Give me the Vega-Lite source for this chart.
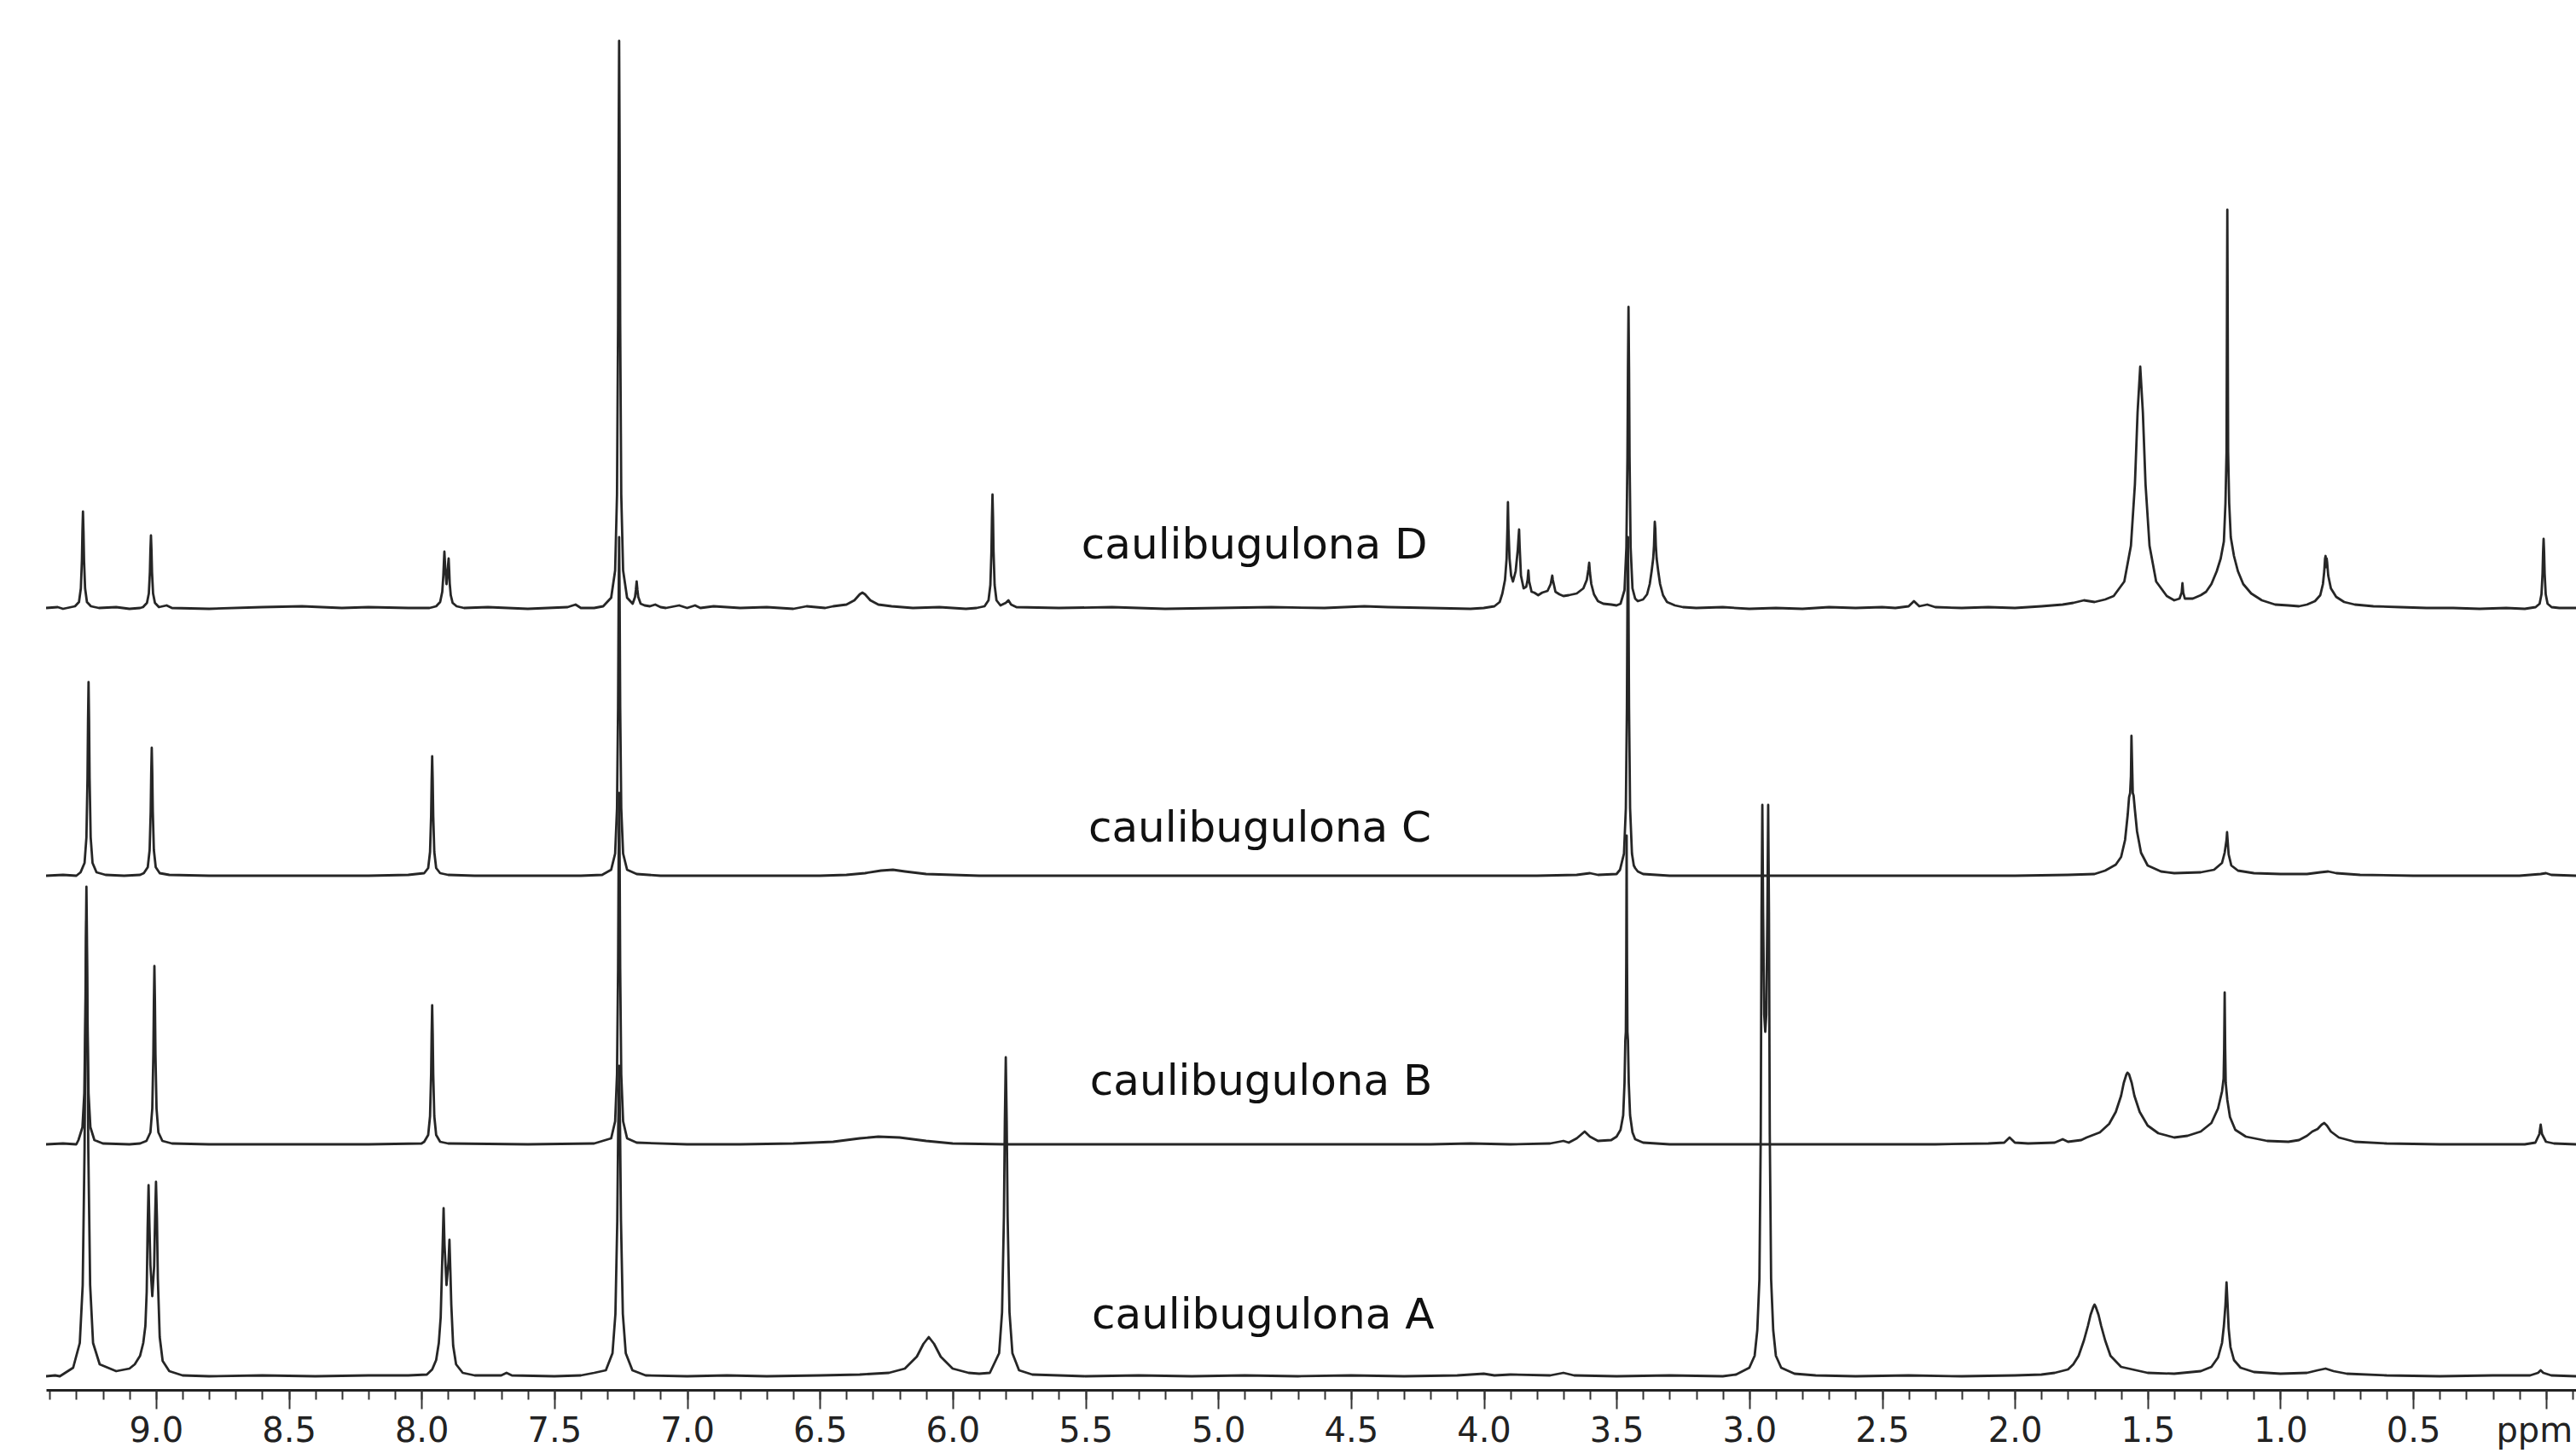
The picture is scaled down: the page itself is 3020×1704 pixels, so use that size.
{
"$schema": "https://vega.github.io/schema/vega-lite/v6.json",
"width": 2966,
"height": 1630,
"autosize": {"type": "none"},
"padding": {"left": 54, "top": 0, "right": 0, "bottom": 74},
"background": "white",
"config": {"view": {"stroke": null}},
"resolve": {"axis": {"x": "independent"}},
"datasets": {
"labels": [
{"ppm": 5.515, "i": 975, "label": "caulibugulona D"},
{"ppm": 5.489, "i": 643, "label": "caulibugulona C"},
{"ppm": 5.483, "i": 346, "label": "caulibugulona B"},
{"ppm": 5.476, "i": 72, "label": "caulibugulona A"}
],
"spectra": [
{"s":"D","ppm":9.414,"i":917},{"s":"D","ppm":9.37,"i":918},{"s":"D","ppm":9.35,"i":916},{"s":"D","ppm":9.335,"i":917},{"s":"D","ppm":9.305,"i":919},{"s":"D","ppm":9.29,"i":924},{"s":"D","ppm":9.283,"i":940},{"s":"D","ppm":9.279,"i":973},{"s":"D","ppm":9.277,"i":1007},{"s":"D","ppm":9.275,"i":1030},{"s":"D","ppm":9.273,"i":1007},{"s":"D","ppm":9.271,"i":973},{"s":"D","ppm":9.267,"i":940},{"s":"D","ppm":9.26,"i":924},{"s":"D","ppm":9.245,"i":919},{"s":"D","ppm":9.215,"i":917},{"s":"D","ppm":9.15,"i":918},{"s":"D","ppm":9.1,"i":916},{"s":"D","ppm":9.06,"i":917},{"s":"D","ppm":9.049,"i":918},{"s":"D","ppm":9.034,"i":923},{"s":"D","ppm":9.027,"i":934},{"s":"D","ppm":9.023,"i":959},{"s":"D","ppm":9.021,"i":985},{"s":"D","ppm":9.019,"i":1002},{"s":"D","ppm":9.017,"i":985},{"s":"D","ppm":9.015,"i":959},{"s":"D","ppm":9.011,"i":934},{"s":"D","ppm":9.004,"i":923},{"s":"D","ppm":8.989,"i":918},{"s":"D","ppm":8.96,"i":920},{"s":"D","ppm":8.94,"i":917},{"s":"D","ppm":8.8,"i":916},{"s":"D","ppm":8.6,"i":918},{"s":"D","ppm":8.45,"i":919},{"s":"D","ppm":8.3,"i":917},{"s":"D","ppm":8.2,"i":918},{"s":"D","ppm":8.05,"i":917},{"s":"D","ppm":7.97,"i":917},{"s":"D","ppm":7.945,"i":919},{"s":"D","ppm":7.93,"i":924},{"s":"D","ppm":7.922,"i":936},{"s":"D","ppm":7.918,"i":955},{"s":"D","ppm":7.916,"i":970},{"s":"D","ppm":7.914,"i":983},{"s":"D","ppm":7.911,"i":965},{"s":"D","ppm":7.906,"i":945},{"s":"D","ppm":7.902,"i":958},{"s":"D","ppm":7.9,"i":968},{"s":"D","ppm":7.898,"i":975},{"s":"D","ppm":7.896,"i":962},{"s":"D","ppm":7.894,"i":946},{"s":"D","ppm":7.89,"i":932},{"s":"D","ppm":7.883,"i":923},{"s":"D","ppm":7.868,"i":919},{"s":"D","ppm":7.84,"i":917},{"s":"D","ppm":7.75,"i":918},{"s":"D","ppm":7.6,"i":916},{"s":"D","ppm":7.45,"i":918},{"s":"D","ppm":7.42,"i":921},{"s":"D","ppm":7.4,"i":917},{"s":"D","ppm":7.35,"i":917},{"s":"D","ppm":7.316,"i":919},{"s":"D","ppm":7.286,"i":929},{"s":"D","ppm":7.271,"i":961},{"s":"D","ppm":7.264,"i":1050},{"s":"D","ppm":7.26,"i":1250},{"s":"D","ppm":7.258,"i":1449},{"s":"D","ppm":7.256,"i":1582},{"s":"D","ppm":7.254,"i":1449},{"s":"D","ppm":7.252,"i":1250},{"s":"D","ppm":7.248,"i":1050},{"s":"D","ppm":7.241,"i":961},{"s":"D","ppm":7.226,"i":929},{"s":"D","ppm":7.205,"i":922},{"s":"D","ppm":7.196,"i":930},{"s":"D","ppm":7.193,"i":938},{"s":"D","ppm":7.19,"i":948},{"s":"D","ppm":7.187,"i":938},{"s":"D","ppm":7.184,"i":930},{"s":"D","ppm":7.175,"i":922},{"s":"D","ppm":7.16,"i":920},{"s":"D","ppm":7.14,"i":919},{"s":"D","ppm":7.12,"i":921},{"s":"D","ppm":7.1,"i":918},{"s":"D","ppm":7.08,"i":917},{"s":"D","ppm":7.03,"i":920},{"s":"D","ppm":7.0,"i":917},{"s":"D","ppm":6.97,"i":920},{"s":"D","ppm":6.95,"i":917},{"s":"D","ppm":6.9,"i":919},{"s":"D","ppm":6.8,"i":917},{"s":"D","ppm":6.7,"i":918},{"s":"D","ppm":6.6,"i":916},{"s":"D","ppm":6.55,"i":919},{"s":"D","ppm":6.48,"i":917},{"s":"D","ppm":6.45,"i":919},{"s":"D","ppm":6.4,"i":921},{"s":"D","ppm":6.37,"i":926},{"s":"D","ppm":6.35,"i":933},{"s":"D","ppm":6.34,"i":935},{"s":"D","ppm":6.33,"i":933},{"s":"D","ppm":6.31,"i":926},{"s":"D","ppm":6.28,"i":921},{"s":"D","ppm":6.23,"i":919},{"s":"D","ppm":6.15,"i":917},{"s":"D","ppm":6.05,"i":918},{"s":"D","ppm":5.95,"i":916},{"s":"D","ppm":5.91,"i":917},{"s":"D","ppm":5.88,"i":919},{"s":"D","ppm":5.865,"i":926},{"s":"D","ppm":5.858,"i":944},{"s":"D","ppm":5.854,"i":983},{"s":"D","ppm":5.852,"i":1023},{"s":"D","ppm":5.85,"i":1050},{"s":"D","ppm":5.848,"i":1023},{"s":"D","ppm":5.846,"i":983},{"s":"D","ppm":5.842,"i":944},{"s":"D","ppm":5.835,"i":926},{"s":"D","ppm":5.82,"i":920},{"s":"D","ppm":5.8,"i":923},{"s":"D","ppm":5.79,"i":926},{"s":"D","ppm":5.78,"i":921},{"s":"D","ppm":5.76,"i":918},{"s":"D","ppm":5.6,"i":917},{"s":"D","ppm":5.4,"i":918},{"s":"D","ppm":5.2,"i":916},{"s":"D","ppm":5.0,"i":917},{"s":"D","ppm":4.8,"i":918},{"s":"D","ppm":4.6,"i":917},{"s":"D","ppm":4.45,"i":919},{"s":"D","ppm":4.36,"i":918},{"s":"D","ppm":4.2,"i":917},{"s":"D","ppm":4.05,"i":916},{"s":"D","ppm":4.0,"i":917},{"s":"D","ppm":3.96,"i":919},{"s":"D","ppm":3.94,"i":924},{"s":"D","ppm":3.93,"i":934},{"s":"D","ppm":3.92,"i":950},{"s":"D","ppm":3.914,"i":975},{"s":"D","ppm":3.911,"i":1010},{"s":"D","ppm":3.909,"i":1041},{"s":"D","ppm":3.907,"i":1010},{"s":"D","ppm":3.903,"i":975},{"s":"D","ppm":3.897,"i":955},{"s":"D","ppm":3.89,"i":948},{"s":"D","ppm":3.88,"i":960},{"s":"D","ppm":3.872,"i":985},{"s":"D","ppm":3.869,"i":1000},{"s":"D","ppm":3.867,"i":1009},{"s":"D","ppm":3.865,"i":990},{"s":"D","ppm":3.86,"i":955},{"s":"D","ppm":3.85,"i":940},{"s":"D","ppm":3.84,"i":942},{"s":"D","ppm":3.835,"i":950},{"s":"D","ppm":3.832,"i":961},{"s":"D","ppm":3.829,"i":948},{"s":"D","ppm":3.82,"i":936},{"s":"D","ppm":3.81,"i":935},{"s":"D","ppm":3.795,"i":932},{"s":"D","ppm":3.78,"i":935},{"s":"D","ppm":3.76,"i":937},{"s":"D","ppm":3.748,"i":945},{"s":"D","ppm":3.744,"i":952},{"s":"D","ppm":3.742,"i":955},{"s":"D","ppm":3.74,"i":950},{"s":"D","ppm":3.73,"i":936},{"s":"D","ppm":3.715,"i":933},{"s":"D","ppm":3.7,"i":931},{"s":"D","ppm":3.68,"i":932},{"s":"D","ppm":3.65,"i":934},{"s":"D","ppm":3.625,"i":940},{"s":"D","ppm":3.612,"i":950},{"s":"D","ppm":3.606,"i":962},{"s":"D","ppm":3.603,"i":970},{"s":"D","ppm":3.6,"i":958},{"s":"D","ppm":3.595,"i":945},{"s":"D","ppm":3.585,"i":933},{"s":"D","ppm":3.57,"i":925},{"s":"D","ppm":3.55,"i":922},{"s":"D","ppm":3.52,"i":921},{"s":"D","ppm":3.5,"i":920},{"s":"D","ppm":3.485,"i":922},{"s":"D","ppm":3.47,"i":938},{"s":"D","ppm":3.463,"i":988},{"s":"D","ppm":3.459,"i":1094},{"s":"D","ppm":3.457,"i":1200},{"s":"D","ppm":3.455,"i":1270},{"s":"D","ppm":3.453,"i":1200},{"s":"D","ppm":3.451,"i":1094},{"s":"D","ppm":3.447,"i":988},{"s":"D","ppm":3.44,"i":940},{"s":"D","ppm":3.43,"i":928},{"s":"D","ppm":3.42,"i":925},{"s":"D","ppm":3.4,"i":927},{"s":"D","ppm":3.385,"i":933},{"s":"D","ppm":3.375,"i":945},{"s":"D","ppm":3.368,"i":960},{"s":"D","ppm":3.362,"i":975},{"s":"D","ppm":3.359,"i":990},{"s":"D","ppm":3.357,"i":1010},{"s":"D","ppm":3.356,"i":1018},{"s":"D","ppm":3.354,"i":1010},{"s":"D","ppm":3.352,"i":990},{"s":"D","ppm":3.349,"i":975},{"s":"D","ppm":3.343,"i":960},{"s":"D","ppm":3.336,"i":945},{"s":"D","ppm":3.325,"i":932},{"s":"D","ppm":3.31,"i":924},{"s":"D","ppm":3.28,"i":920},{"s":"D","ppm":3.25,"i":918},{"s":"D","ppm":3.2,"i":917},{"s":"D","ppm":3.1,"i":918},{"s":"D","ppm":3.0,"i":916},{"s":"D","ppm":2.9,"i":917},{"s":"D","ppm":2.8,"i":916},{"s":"D","ppm":2.7,"i":918},{"s":"D","ppm":2.6,"i":917},{"s":"D","ppm":2.5,"i":918},{"s":"D","ppm":2.45,"i":917},{"s":"D","ppm":2.4,"i":919},{"s":"D","ppm":2.38,"i":925},{"s":"D","ppm":2.36,"i":919},{"s":"D","ppm":2.33,"i":921},{"s":"D","ppm":2.3,"i":918},{"s":"D","ppm":2.2,"i":917},{"s":"D","ppm":2.1,"i":918},{"s":"D","ppm":2.0,"i":917},{"s":"D","ppm":1.9,"i":919},{"s":"D","ppm":1.82,"i":921},{"s":"D","ppm":1.78,"i":923},{"s":"D","ppm":1.74,"i":926},{"s":"D","ppm":1.7,"i":924},{"s":"D","ppm":1.66,"i":927},{"s":"D","ppm":1.628,"i":931},{"s":"D","ppm":1.588,"i":948},{"s":"D","ppm":1.563,"i":990},{"s":"D","ppm":1.548,"i":1062},{"s":"D","ppm":1.538,"i":1146},{"s":"D","ppm":1.528,"i":1200},{"s":"D","ppm":1.518,"i":1146},{"s":"D","ppm":1.508,"i":1062},{"s":"D","ppm":1.493,"i":990},{"s":"D","ppm":1.468,"i":948},{"s":"D","ppm":1.428,"i":931},{"s":"D","ppm":1.4,"i":926},{"s":"D","ppm":1.38,"i":928},{"s":"D","ppm":1.372,"i":935},{"s":"D","ppm":1.369,"i":946},{"s":"D","ppm":1.366,"i":935},{"s":"D","ppm":1.36,"i":928},{"s":"D","ppm":1.33,"i":928},{"s":"D","ppm":1.3,"i":932},{"s":"D","ppm":1.28,"i":936},{"s":"D","ppm":1.26,"i":945},{"s":"D","ppm":1.24,"i":960},{"s":"D","ppm":1.225,"i":975},{"s":"D","ppm":1.213,"i":995},{"s":"D","ppm":1.207,"i":1040},{"s":"D","ppm":1.203,"i":1100},{"s":"D","ppm":1.201,"i":1300},{"s":"D","ppm":1.2,"i":1384},{"s":"D","ppm":1.199,"i":1300},{"s":"D","ppm":1.197,"i":1100},{"s":"D","ppm":1.193,"i":1040},{"s":"D","ppm":1.187,"i":1000},{"s":"D","ppm":1.175,"i":978},{"s":"D","ppm":1.16,"i":960},{"s":"D","ppm":1.14,"i":945},{"s":"D","ppm":1.11,"i":934},{"s":"D","ppm":1.07,"i":926},{"s":"D","ppm":1.02,"i":921},{"s":"D","ppm":0.97,"i":920},{"s":"D","ppm":0.93,"i":919},{"s":"D","ppm":0.9,"i":921},{"s":"D","ppm":0.87,"i":925},{"s":"D","ppm":0.85,"i":932},{"s":"D","ppm":0.84,"i":945},{"s":"D","ppm":0.835,"i":960},{"s":"D","ppm":0.832,"i":975},{"s":"D","ppm":0.83,"i":978},{"s":"D","ppm":0.828,"i":965},{"s":"D","ppm":0.826,"i":975},{"s":"D","ppm":0.824,"i":970},{"s":"D","ppm":0.82,"i":955},{"s":"D","ppm":0.81,"i":940},{"s":"D","ppm":0.79,"i":930},{"s":"D","ppm":0.76,"i":924},{"s":"D","ppm":0.72,"i":921},{"s":"D","ppm":0.65,"i":919},{"s":"D","ppm":0.55,"i":918},{"s":"D","ppm":0.45,"i":917},{"s":"D","ppm":0.35,"i":917},{"s":"D","ppm":0.25,"i":916},{"s":"D","ppm":0.15,"i":917},{"s":"D","ppm":0.08,"i":916},{"s":"D","ppm":0.039,"i":918},{"s":"D","ppm":0.024,"i":922},{"s":"D","ppm":0.017,"i":933},{"s":"D","ppm":0.013,"i":957},{"s":"D","ppm":0.011,"i":982},{"s":"D","ppm":0.009,"i":998},{"s":"D","ppm":0.007,"i":982},{"s":"D","ppm":0.005,"i":957},{"s":"D","ppm":0.001,"i":933},{"s":"D","ppm":-0.006,"i":922},{"s":"D","ppm":-0.021,"i":918},{"s":"D","ppm":-0.05,"i":917},{"s":"D","ppm":-0.113,"i":917},

{"s":"C","ppm":9.414,"i":603},{"s":"C","ppm":9.35,"i":604},{"s":"C","ppm":9.3,"i":603},{"s":"C","ppm":9.284,"i":607},{"s":"C","ppm":9.269,"i":618},{"s":"C","ppm":9.262,"i":648},{"s":"C","ppm":9.258,"i":717},{"s":"C","ppm":9.256,"i":785},{"s":"C","ppm":9.254,"i":830},{"s":"C","ppm":9.252,"i":785},{"s":"C","ppm":9.25,"i":717},{"s":"C","ppm":9.246,"i":648},{"s":"C","ppm":9.239,"i":618},{"s":"C","ppm":9.224,"i":607},{"s":"C","ppm":9.19,"i":604},{"s":"C","ppm":9.12,"i":603},{"s":"C","ppm":9.06,"i":604},{"s":"C","ppm":9.046,"i":606},{"s":"C","ppm":9.031,"i":613},{"s":"C","ppm":9.024,"i":633},{"s":"C","ppm":9.02,"i":678},{"s":"C","ppm":9.018,"i":723},{"s":"C","ppm":9.016,"i":753},{"s":"C","ppm":9.014,"i":723},{"s":"C","ppm":9.012,"i":678},{"s":"C","ppm":9.008,"i":633},{"s":"C","ppm":9.001,"i":613},{"s":"C","ppm":8.986,"i":606},{"s":"C","ppm":8.95,"i":604},{"s":"C","ppm":8.8,"i":603},{"s":"C","ppm":8.6,"i":603},{"s":"C","ppm":8.4,"i":603},{"s":"C","ppm":8.2,"i":603},{"s":"C","ppm":8.05,"i":604},{"s":"C","ppm":7.99,"i":606},{"s":"C","ppm":7.975,"i":612},{"s":"C","ppm":7.968,"i":631},{"s":"C","ppm":7.964,"i":673},{"s":"C","ppm":7.962,"i":715},{"s":"C","ppm":7.96,"i":743},{"s":"C","ppm":7.958,"i":715},{"s":"C","ppm":7.956,"i":673},{"s":"C","ppm":7.952,"i":631},{"s":"C","ppm":7.945,"i":612},{"s":"C","ppm":7.93,"i":606},{"s":"C","ppm":7.9,"i":604},{"s":"C","ppm":7.8,"i":603},{"s":"C","ppm":7.6,"i":603},{"s":"C","ppm":7.4,"i":603},{"s":"C","ppm":7.32,"i":604},{"s":"C","ppm":7.286,"i":610},{"s":"C","ppm":7.271,"i":629},{"s":"C","ppm":7.264,"i":682},{"s":"C","ppm":7.26,"i":801},{"s":"C","ppm":7.258,"i":921},{"s":"C","ppm":7.256,"i":1000},{"s":"C","ppm":7.254,"i":921},{"s":"C","ppm":7.252,"i":801},{"s":"C","ppm":7.248,"i":682},{"s":"C","ppm":7.241,"i":629},{"s":"C","ppm":7.226,"i":610},{"s":"C","ppm":7.19,"i":605},{"s":"C","ppm":7.1,"i":603},{"s":"C","ppm":6.9,"i":603},{"s":"C","ppm":6.7,"i":603},{"s":"C","ppm":6.5,"i":603},{"s":"C","ppm":6.4,"i":604},{"s":"C","ppm":6.33,"i":606},{"s":"C","ppm":6.27,"i":609},{"s":"C","ppm":6.225,"i":610},{"s":"C","ppm":6.18,"i":608},{"s":"C","ppm":6.1,"i":605},{"s":"C","ppm":6.0,"i":604},{"s":"C","ppm":5.9,"i":603},{"s":"C","ppm":5.6,"i":603},{"s":"C","ppm":5.2,"i":603},{"s":"C","ppm":4.8,"i":603},{"s":"C","ppm":4.4,"i":603},{"s":"C","ppm":4.0,"i":603},{"s":"C","ppm":3.8,"i":603},{"s":"C","ppm":3.65,"i":604},{"s":"C","ppm":3.6,"i":606},{"s":"C","ppm":3.57,"i":604},{"s":"C","ppm":3.5,"i":605},{"s":"C","ppm":3.487,"i":610},{"s":"C","ppm":3.472,"i":629},{"s":"C","ppm":3.465,"i":682},{"s":"C","ppm":3.461,"i":801},{"s":"C","ppm":3.459,"i":921},{"s":"C","ppm":3.457,"i":1000},{"s":"C","ppm":3.455,"i":921},{"s":"C","ppm":3.453,"i":801},{"s":"C","ppm":3.449,"i":682},{"s":"C","ppm":3.442,"i":629},{"s":"C","ppm":3.435,"i":615},{"s":"C","ppm":3.43,"i":612},{"s":"C","ppm":3.42,"i":608},{"s":"C","ppm":3.4,"i":605},{"s":"C","ppm":3.35,"i":604},{"s":"C","ppm":3.3,"i":603},{"s":"C","ppm":3.0,"i":603},{"s":"C","ppm":2.5,"i":603},{"s":"C","ppm":2.0,"i":603},{"s":"C","ppm":1.8,"i":604},{"s":"C","ppm":1.7,"i":605},{"s":"C","ppm":1.66,"i":609},{"s":"C","ppm":1.62,"i":616},{"s":"C","ppm":1.6,"i":625},{"s":"C","ppm":1.585,"i":645},{"s":"C","ppm":1.575,"i":675},{"s":"C","ppm":1.57,"i":695},{"s":"C","ppm":1.566,"i":700},{"s":"C","ppm":1.563,"i":720},{"s":"C","ppm":1.561,"i":767},{"s":"C","ppm":1.559,"i":740},{"s":"C","ppm":1.556,"i":700},{"s":"C","ppm":1.553,"i":697},{"s":"C","ppm":1.548,"i":680},{"s":"C","ppm":1.54,"i":655},{"s":"C","ppm":1.525,"i":630},{"s":"C","ppm":1.5,"i":615},{"s":"C","ppm":1.45,"i":608},{"s":"C","ppm":1.4,"i":606},{"s":"C","ppm":1.3,"i":607},{"s":"C","ppm":1.25,"i":610},{"s":"C","ppm":1.22,"i":618},{"s":"C","ppm":1.21,"i":630},{"s":"C","ppm":1.203,"i":645},{"s":"C","ppm":1.201,"i":654},{"s":"C","ppm":1.199,"i":645},{"s":"C","ppm":1.195,"i":628},{"s":"C","ppm":1.185,"i":615},{"s":"C","ppm":1.16,"i":609},{"s":"C","ppm":1.1,"i":606},{"s":"C","ppm":1.0,"i":605},{"s":"C","ppm":0.9,"i":605},{"s":"C","ppm":0.85,"i":607},{"s":"C","ppm":0.82,"i":608},{"s":"C","ppm":0.79,"i":606},{"s":"C","ppm":0.7,"i":604},{"s":"C","ppm":0.5,"i":603},{"s":"C","ppm":0.3,"i":603},{"s":"C","ppm":0.1,"i":603},{"s":"C","ppm":0.02,"i":605},{"s":"C","ppm":0.0,"i":606},{"s":"C","ppm":-0.02,"i":604},{"s":"C","ppm":-0.113,"i":603},

{"s":"B","ppm":9.414,"i":288},{"s":"B","ppm":9.35,"i":289},{"s":"B","ppm":9.3,"i":288},{"s":"B","ppm":9.292,"i":293},{"s":"B","ppm":9.277,"i":308},{"s":"B","ppm":9.27,"i":348},{"s":"B","ppm":9.266,"i":439},{"s":"B","ppm":9.264,"i":530},{"s":"B","ppm":9.262,"i":590},{"s":"B","ppm":9.26,"i":530},{"s":"B","ppm":9.258,"i":439},{"s":"B","ppm":9.254,"i":348},{"s":"B","ppm":9.247,"i":308},{"s":"B","ppm":9.232,"i":293},{"s":"B","ppm":9.2,"i":289},{"s":"B","ppm":9.1,"i":288},{"s":"B","ppm":9.06,"i":289},{"s":"B","ppm":9.036,"i":292},{"s":"B","ppm":9.021,"i":302},{"s":"B","ppm":9.014,"i":330},{"s":"B","ppm":9.01,"i":393},{"s":"B","ppm":9.008,"i":455},{"s":"B","ppm":9.006,"i":497},{"s":"B","ppm":9.004,"i":455},{"s":"B","ppm":9.002,"i":393},{"s":"B","ppm":8.998,"i":330},{"s":"B","ppm":8.991,"i":302},{"s":"B","ppm":8.976,"i":292},{"s":"B","ppm":8.94,"i":289},{"s":"B","ppm":8.8,"i":288},{"s":"B","ppm":8.5,"i":288},{"s":"B","ppm":8.2,"i":288},{"s":"B","ppm":8.0,"i":289},{"s":"B","ppm":7.99,"i":291},{"s":"B","ppm":7.975,"i":299},{"s":"B","ppm":7.968,"i":321},{"s":"B","ppm":7.964,"i":370},{"s":"B","ppm":7.962,"i":418},{"s":"B","ppm":7.96,"i":451},{"s":"B","ppm":7.958,"i":418},{"s":"B","ppm":7.956,"i":370},{"s":"B","ppm":7.952,"i":321},{"s":"B","ppm":7.945,"i":299},{"s":"B","ppm":7.93,"i":291},{"s":"B","ppm":7.9,"i":289},{"s":"B","ppm":7.6,"i":288},{"s":"B","ppm":7.35,"i":289},{"s":"B","ppm":7.286,"i":295},{"s":"B","ppm":7.271,"i":315},{"s":"B","ppm":7.264,"i":370},{"s":"B","ppm":7.26,"i":494},{"s":"B","ppm":7.258,"i":618},{"s":"B","ppm":7.256,"i":700},{"s":"B","ppm":7.254,"i":618},{"s":"B","ppm":7.252,"i":494},{"s":"B","ppm":7.248,"i":370},{"s":"B","ppm":7.241,"i":315},{"s":"B","ppm":7.226,"i":295},{"s":"B","ppm":7.19,"i":290},{"s":"B","ppm":7.0,"i":288},{"s":"B","ppm":6.8,"i":288},{"s":"B","ppm":6.6,"i":289},{"s":"B","ppm":6.45,"i":291},{"s":"B","ppm":6.35,"i":295},{"s":"B","ppm":6.28,"i":297},{"s":"B","ppm":6.2,"i":296},{"s":"B","ppm":6.1,"i":292},{"s":"B","ppm":6.0,"i":289},{"s":"B","ppm":5.8,"i":288},{"s":"B","ppm":5.4,"i":288},{"s":"B","ppm":5.0,"i":288},{"s":"B","ppm":4.6,"i":288},{"s":"B","ppm":4.2,"i":288},{"s":"B","ppm":4.05,"i":289},{"s":"B","ppm":3.9,"i":288},{"s":"B","ppm":3.75,"i":289},{"s":"B","ppm":3.7,"i":292},{"s":"B","ppm":3.68,"i":290},{"s":"B","ppm":3.65,"i":295},{"s":"B","ppm":3.62,"i":303},{"s":"B","ppm":3.6,"i":297},{"s":"B","ppm":3.57,"i":292},{"s":"B","ppm":3.52,"i":293},{"s":"B","ppm":3.5,"i":297},{"s":"B","ppm":3.485,"i":305},{"s":"B","ppm":3.475,"i":322},{"s":"B","ppm":3.47,"i":360},{"s":"B","ppm":3.467,"i":410},{"s":"B","ppm":3.465,"i":420},{"s":"B","ppm":3.4635,"i":500},{"s":"B","ppm":3.462,"i":650},{"s":"B","ppm":3.4605,"i":500},{"s":"B","ppm":3.459,"i":420},{"s":"B","ppm":3.457,"i":410},{"s":"B","ppm":3.454,"i":360},{"s":"B","ppm":3.449,"i":322},{"s":"B","ppm":3.44,"i":302},{"s":"B","ppm":3.43,"i":294},{"s":"B","ppm":3.4,"i":290},{"s":"B","ppm":3.3,"i":288},{"s":"B","ppm":3.1,"i":288},{"s":"B","ppm":2.9,"i":288},{"s":"B","ppm":2.7,"i":288},{"s":"B","ppm":2.5,"i":288},{"s":"B","ppm":2.3,"i":288},{"s":"B","ppm":2.1,"i":289},{"s":"B","ppm":2.04,"i":290},{"s":"B","ppm":2.02,"i":296},{"s":"B","ppm":2.0,"i":290},{"s":"B","ppm":1.95,"i":289},{"s":"B","ppm":1.85,"i":290},{"s":"B","ppm":1.82,"i":294},{"s":"B","ppm":1.8,"i":291},{"s":"B","ppm":1.75,"i":293},{"s":"B","ppm":1.73,"i":296},{"s":"B","ppm":1.68,"i":302},{"s":"B","ppm":1.645,"i":312},{"s":"B","ppm":1.62,"i":326},{"s":"B","ppm":1.6,"i":345},{"s":"B","ppm":1.59,"i":360},{"s":"B","ppm":1.58,"i":370},{"s":"B","ppm":1.576,"i":372},{"s":"B","ppm":1.57,"i":370},{"s":"B","ppm":1.56,"i":360},{"s":"B","ppm":1.55,"i":345},{"s":"B","ppm":1.53,"i":326},{"s":"B","ppm":1.5,"i":310},{"s":"B","ppm":1.46,"i":301},{"s":"B","ppm":1.4,"i":296},{"s":"B","ppm":1.35,"i":298},{"s":"B","ppm":1.3,"i":303},{"s":"B","ppm":1.26,"i":313},{"s":"B","ppm":1.235,"i":330},{"s":"B","ppm":1.22,"i":350},{"s":"B","ppm":1.214,"i":365},{"s":"B","ppm":1.212,"i":400},{"s":"B","ppm":1.21,"i":466},{"s":"B","ppm":1.208,"i":400},{"s":"B","ppm":1.206,"i":360},{"s":"B","ppm":1.2,"i":340},{"s":"B","ppm":1.19,"i":320},{"s":"B","ppm":1.17,"i":305},{"s":"B","ppm":1.13,"i":297},{"s":"B","ppm":1.05,"i":292},{"s":"B","ppm":0.97,"i":291},{"s":"B","ppm":0.93,"i":293},{"s":"B","ppm":0.9,"i":298},{"s":"B","ppm":0.88,"i":303},{"s":"B","ppm":0.86,"i":306},{"s":"B","ppm":0.845,"i":311},{"s":"B","ppm":0.835,"i":313},{"s":"B","ppm":0.825,"i":310},{"s":"B","ppm":0.81,"i":303},{"s":"B","ppm":0.78,"i":296},{"s":"B","ppm":0.72,"i":291},{"s":"B","ppm":0.6,"i":289},{"s":"B","ppm":0.4,"i":288},{"s":"B","ppm":0.2,"i":288},{"s":"B","ppm":0.08,"i":288},{"s":"B","ppm":0.04,"i":290},{"s":"B","ppm":0.025,"i":300},{"s":"B","ppm":0.02,"i":311},{"s":"B","ppm":0.015,"i":300},{"s":"B","ppm":0.0,"i":291},{"s":"B","ppm":-0.03,"i":289},{"s":"B","ppm":-0.113,"i":288},

{"s":"A","ppm":9.414,"i":16},{"s":"A","ppm":9.38,"i":17},{"s":"A","ppm":9.362,"i":16},{"s":"A","ppm":9.312,"i":26},{"s":"A","ppm":9.287,"i":55},{"s":"A","ppm":9.276,"i":123},{"s":"A","ppm":9.269,"i":283},{"s":"A","ppm":9.2655,"i":443},{"s":"A","ppm":9.262,"i":550},{"s":"A","ppm":9.2585,"i":443},{"s":"A","ppm":9.255,"i":283},{"s":"A","ppm":9.248,"i":123},{"s":"A","ppm":9.237,"i":55},{"s":"A","ppm":9.212,"i":30},{"s":"A","ppm":9.15,"i":22},{"s":"A","ppm":9.1,"i":25},{"s":"A","ppm":9.08,"i":30},{"s":"A","ppm":9.06,"i":40},{"s":"A","ppm":9.048,"i":55},{"s":"A","ppm":9.04,"i":75},{"s":"A","ppm":9.035,"i":115},{"s":"A","ppm":9.0315,"i":190},{"s":"A","ppm":9.028,"i":240},{"s":"A","ppm":9.0245,"i":190},{"s":"A","ppm":9.021,"i":146},{"s":"A","ppm":9.014,"i":110},{"s":"A","ppm":9.007,"i":145},{"s":"A","ppm":9.0035,"i":200},{"s":"A","ppm":9.0,"i":244},{"s":"A","ppm":8.9965,"i":202},{"s":"A","ppm":8.993,"i":130},{"s":"A","ppm":8.986,"i":62},{"s":"A","ppm":8.975,"i":34},{"s":"A","ppm":8.95,"i":22},{"s":"A","ppm":8.9,"i":17},{"s":"A","ppm":8.8,"i":16},{"s":"A","ppm":8.6,"i":17},{"s":"A","ppm":8.4,"i":16},{"s":"A","ppm":8.2,"i":17},{"s":"A","ppm":8.05,"i":17},{"s":"A","ppm":7.98,"i":18},{"s":"A","ppm":7.96,"i":24},{"s":"A","ppm":7.945,"i":35},{"s":"A","ppm":7.935,"i":55},{"s":"A","ppm":7.928,"i":85},{"s":"A","ppm":7.9205,"i":170},{"s":"A","ppm":7.917,"i":213},{"s":"A","ppm":7.9135,"i":170},{"s":"A","ppm":7.906,"i":123},{"s":"A","ppm":7.8985,"i":150},{"s":"A","ppm":7.895,"i":176},{"s":"A","ppm":7.8915,"i":140},{"s":"A","ppm":7.888,"i":100},{"s":"A","ppm":7.881,"i":52},{"s":"A","ppm":7.87,"i":30},{"s":"A","ppm":7.845,"i":20},{"s":"A","ppm":7.8,"i":17},{"s":"A","ppm":7.7,"i":17},{"s":"A","ppm":7.68,"i":20},{"s":"A","ppm":7.66,"i":17},{"s":"A","ppm":7.5,"i":16},{"s":"A","ppm":7.4,"i":17},{"s":"A","ppm":7.35,"i":20},{"s":"A","ppm":7.306,"i":23},{"s":"A","ppm":7.281,"i":43},{"s":"A","ppm":7.27,"i":89},{"s":"A","ppm":7.263,"i":198},{"s":"A","ppm":7.2595,"i":307},{"s":"A","ppm":7.256,"i":380},{"s":"A","ppm":7.2525,"i":307},{"s":"A","ppm":7.249,"i":198},{"s":"A","ppm":7.242,"i":89},{"s":"A","ppm":7.231,"i":43},{"s":"A","ppm":7.206,"i":23},{"s":"A","ppm":7.156,"i":17},{"s":"A","ppm":7.0,"i":16},{"s":"A","ppm":6.85,"i":17},{"s":"A","ppm":6.7,"i":16},{"s":"A","ppm":6.5,"i":17},{"s":"A","ppm":6.35,"i":18},{"s":"A","ppm":6.24,"i":20},{"s":"A","ppm":6.18,"i":25},{"s":"A","ppm":6.135,"i":39},{"s":"A","ppm":6.11,"i":54},{"s":"A","ppm":6.09,"i":62},{"s":"A","ppm":6.07,"i":54},{"s":"A","ppm":6.045,"i":39},{"s":"A","ppm":6.0,"i":25},{"s":"A","ppm":5.94,"i":20},{"s":"A","ppm":5.9,"i":19},{"s":"A","ppm":5.86,"i":20},{"s":"A","ppm":5.825,"i":43},{"s":"A","ppm":5.814,"i":91},{"s":"A","ppm":5.807,"i":203},{"s":"A","ppm":5.8035,"i":315},{"s":"A","ppm":5.8,"i":390},{"s":"A","ppm":5.7965,"i":315},{"s":"A","ppm":5.793,"i":203},{"s":"A","ppm":5.786,"i":91},{"s":"A","ppm":5.775,"i":43},{"s":"A","ppm":5.75,"i":23},{"s":"A","ppm":5.7,"i":18},{"s":"A","ppm":5.5,"i":16},{"s":"A","ppm":5.3,"i":17},{"s":"A","ppm":5.1,"i":16},{"s":"A","ppm":4.9,"i":17},{"s":"A","ppm":4.7,"i":16},{"s":"A","ppm":4.5,"i":17},{"s":"A","ppm":4.3,"i":16},{"s":"A","ppm":4.1,"i":17},{"s":"A","ppm":4.0,"i":19},{"s":"A","ppm":3.96,"i":17},{"s":"A","ppm":3.9,"i":18},{"s":"A","ppm":3.75,"i":17},{"s":"A","ppm":3.7,"i":20},{"s":"A","ppm":3.66,"i":17},{"s":"A","ppm":3.5,"i":16},{"s":"A","ppm":3.3,"i":17},{"s":"A","ppm":3.1,"i":16},{"s":"A","ppm":3.05,"i":18},{"s":"A","ppm":3.0,"i":26},{"s":"A","ppm":2.98,"i":40},{"s":"A","ppm":2.97,"i":70},{"s":"A","ppm":2.962,"i":130},{"s":"A","ppm":2.957,"i":300},{"s":"A","ppm":2.954,"i":560},{"s":"A","ppm":2.951,"i":686},{"s":"A","ppm":2.948,"i":560},{"s":"A","ppm":2.944,"i":440},{"s":"A","ppm":2.94,"i":420},{"s":"A","ppm":2.936,"i":440},{"s":"A","ppm":2.932,"i":560},{"s":"A","ppm":2.929,"i":686},{"s":"A","ppm":2.926,"i":560},{"s":"A","ppm":2.923,"i":300},{"s":"A","ppm":2.918,"i":130},{"s":"A","ppm":2.91,"i":70},{"s":"A","ppm":2.9,"i":40},{"s":"A","ppm":2.88,"i":26},{"s":"A","ppm":2.83,"i":19},{"s":"A","ppm":2.75,"i":17},{"s":"A","ppm":2.6,"i":16},{"s":"A","ppm":2.4,"i":17},{"s":"A","ppm":2.2,"i":16},{"s":"A","ppm":2.0,"i":17},{"s":"A","ppm":1.9,"i":18},{"s":"A","ppm":1.85,"i":20},{"s":"A","ppm":1.8,"i":24},{"s":"A","ppm":1.78,"i":30},{"s":"A","ppm":1.76,"i":40},{"s":"A","ppm":1.74,"i":58},{"s":"A","ppm":1.725,"i":75},{"s":"A","ppm":1.715,"i":88},{"s":"A","ppm":1.705,"i":97},{"s":"A","ppm":1.7,"i":100},{"s":"A","ppm":1.695,"i":97},{"s":"A","ppm":1.685,"i":88},{"s":"A","ppm":1.675,"i":75},{"s":"A","ppm":1.66,"i":58},{"s":"A","ppm":1.64,"i":40},{"s":"A","ppm":1.6,"i":27},{"s":"A","ppm":1.5,"i":20},{"s":"A","ppm":1.4,"i":19},{"s":"A","ppm":1.3,"i":22},{"s":"A","ppm":1.26,"i":27},{"s":"A","ppm":1.235,"i":38},{"s":"A","ppm":1.22,"i":55},{"s":"A","ppm":1.213,"i":75},{"s":"A","ppm":1.207,"i":100},{"s":"A","ppm":1.203,"i":126},{"s":"A","ppm":1.199,"i":100},{"s":"A","ppm":1.195,"i":72},{"s":"A","ppm":1.188,"i":50},{"s":"A","ppm":1.175,"i":35},{"s":"A","ppm":1.15,"i":26},{"s":"A","ppm":1.1,"i":21},{"s":"A","ppm":1.0,"i":19},{"s":"A","ppm":0.9,"i":20},{"s":"A","ppm":0.86,"i":23},{"s":"A","ppm":0.83,"i":25},{"s":"A","ppm":0.8,"i":22},{"s":"A","ppm":0.75,"i":19},{"s":"A","ppm":0.6,"i":17},{"s":"A","ppm":0.4,"i":16},{"s":"A","ppm":0.2,"i":17},{"s":"A","ppm":0.06,"i":17},{"s":"A","ppm":0.03,"i":20},{"s":"A","ppm":0.02,"i":23},{"s":"A","ppm":0.01,"i":20},{"s":"A","ppm":-0.02,"i":17},{"s":"A","ppm":-0.113,"i":16}
]
},
"layer": [
{
"data": {"name": "spectra"},
"mark": {"type": "line", "stroke": "#262626", "strokeWidth": 2.8, "clip": true, "strokeJoin": "round"},
"encoding": {
"x": {"field": "ppm", "type": "quantitative",
"scale": {"domain": [-0.113, 9.414], "reverse": true, "nice": false, "zero": false},
"axis": {
"orient": "bottom",
"title": null,
"values": [-0.1,0,0.1,0.2,0.3,0.4,0.5,0.6,0.7,0.8,0.9,1,1.1,1.2,1.3,1.4,1.5,1.6,1.7,1.8,1.9,2,2.1,2.2,2.3,2.4,2.5,2.6,2.7,2.8,2.9,3,3.1,3.2,3.3,3.4,3.5,3.6,3.7,3.8,3.9,4,4.1,4.2,4.3,4.4,4.5,4.6,4.7,4.8,4.9,5,5.1,5.2,5.3,5.4,5.5,5.6,5.7,5.8,5.9,6,6.1,6.2,6.3,6.4,6.5,6.6,6.7,6.8,6.9,7,7.1,7.2,7.3,7.4,7.5,7.6,7.7,7.8,7.9,8,8.1,8.2,8.3,8.4,8.5,8.6,8.7,8.8,8.9,9,9.1,9.2,9.3,9.4],
"labels": false,
"grid": false,
"domain": true,
"domainColor": "#222222",
"domainWidth": 3,
"tickColor": "#333333",
"tickWidth": 2,
"tickSize": 11
}
},
"y": {"field": "i", "type": "quantitative", "scale": {"domain": [0, 1630], "nice": false, "zero": false}, "axis": null},
"detail": {"field": "s"}
}
},
{
"data": {"name": "labels"},
"mark": {"type": "text", "align": "left", "baseline": "alphabetic", "font": "DejaVu Sans", "fontSize": 50, "color": "#111111"},
"encoding": {
"x": {"field": "ppm", "type": "quantitative",
"axis": {
"orient": "bottom",
"title": null,
"values": [0,0.5,1,1.5,2,2.5,3,3.5,4,4.5,5,5.5,6,6.5,7,7.5,8,8.5,9],
"labelExpr": "abs(datum.value) < 0.001 ? 'ppm' : format(datum.value, '.1f')",
"labelFont": "DejaVu Sans",
"labelFontSize": 40,
"labelColor": "#222222",
"labelPadding": 6,
"labelOffset": {"condition": {"test": "abs(datum.value) < 0.001", "value": -14}, "value": 0},
"labelOverlap": false,
"labelFlush": false,
"labelBound": false,
"grid": false,
"domain": false,
"tickColor": "#333333",
"tickWidth": 2,
"tickSize": 22
}
},
"y": {"field": "i", "type": "quantitative"},
"text": {"field": "label"}
}
}
]
}
